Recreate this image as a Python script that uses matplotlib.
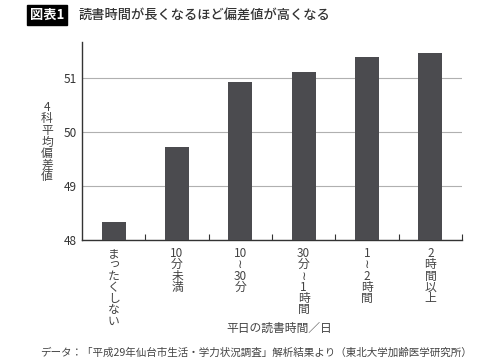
import re
import numpy as np
import matplotlib
matplotlib.use("Agg")
import matplotlib.pyplot as plt

plt.rcParams['font.family'] = ['Noto Sans CJK JP', 'DejaVu Sans']

categories = ["まったくしない", "10分未満", "10〜30分", "30分〜1時間", "1〜2時間", "2時間以上"]
scores = [48.34, 49.72, 50.92, 51.11, 51.39, 51.46]
yticks = [48, 49, 50, 51]

title = "読書時間が長くなるほど偏差値が高くなる"
ylabel = "4科平均偏差値"
xlabel = "平日の読書時間／日"
source = "データ：「平成29年仙台市生活・学力状況調査」解析結果より（東北大学加齢医学研究所）"


def vertical(text):
    # stack characters top to bottom, keep digit runs together
    parts = re.findall(r"\d+|.", text)
    return "\n".join("≀" if p == "〜" else p for p in parts)


fig = plt.figure(figsize=(4.8, 3.6), dpi=100)
ax = fig.add_axes([82 / 480, 1 - 240 / 360, 380 / 480, 198 / 360])

x = np.arange(len(categories))
ax.bar(x, scores, width=0.38, bottom=0, color="#4b4b4f", zorder=3)
ax.set_ylim(48, 48 + 198 / 54)
ax.set_xlim(-0.5, len(categories) - 0.5)

ax.set_yticks(yticks)
ax.set_yticklabels([str(v) for v in yticks])
ax.tick_params(axis="y", length=0, pad=4, labelsize=8.5, labelcolor="#333333")
ax.yaxis.grid(True, color="#b0b0b0", lw=0.8, zorder=0)

ax.set_xticks(x)
ax.set_xticklabels([vertical(c) for c in categories], linespacing=0.83,
                   fontsize=8.5, color="#444444", va="top")
ax.tick_params(axis="x", length=0, pad=5)
ax.set_xticks(np.arange(0.5, len(categories), 1), minor=True)
ax.tick_params(axis="x", which="minor", direction="in", length=4, width=0.8, color="#333333")

for s in ["top", "right"]:
    ax.spines[s].set_visible(False)
for s in ["left", "bottom"]:
    ax.spines[s].set_color("#333333")
    ax.spines[s].set_linewidth(1.0)

fig.text(47 / 480, 1 - 142 / 360, "\n".join(ylabel), ha="center", va="center",
         fontsize=8.5, color="#444444", linespacing=0.85)
fig.text(279 / 480, 1 - 328 / 360, xlabel, ha="center", va="center",
         fontsize=8.5, color="#444444")
fig.text(40 / 480, 1 - 353 / 360, source, ha="left", va="center",
         fontsize=7.6, color="#444444")

fig.text(30 / 480, 1 - 15 / 360, "図表1", ha="left", va="center", fontsize=9.5,
         fontweight="bold", color="white",
         bbox=dict(boxstyle="square,pad=0.2", fc="black", ec="black"))
fig.text(79 / 480, 1 - 15 / 360, title, ha="left", va="center", fontsize=9.5,
         fontweight="medium", color="#333333")

fig.savefig("out.png", dpi=100)
